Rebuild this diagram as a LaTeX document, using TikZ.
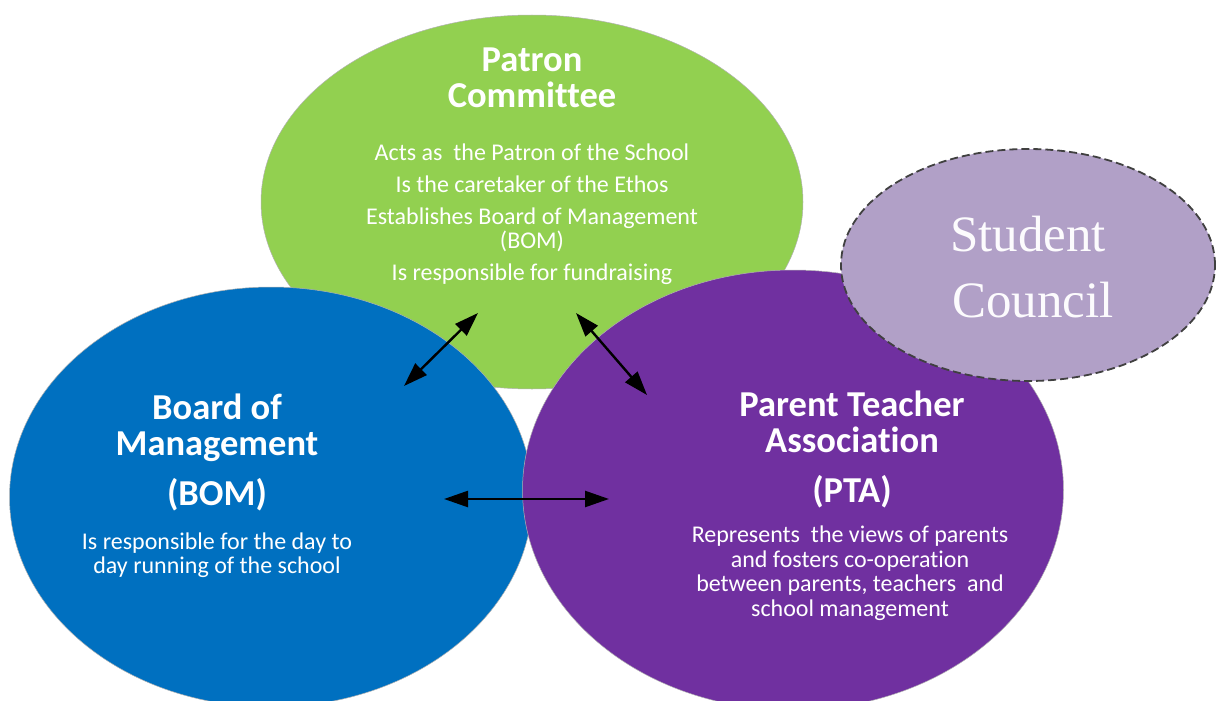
\documentclass[tikz,border=0pt]{standalone}
\usepackage{fontspec}
\setmainfont[Ligatures=NoCommon]{Carlito}
\newfontfamily\councilfont{Liberation Serif}
\usetikzlibrary{%
  arrows.meta,
  positioning,
  shapes.geometric
}
\definecolor{patrongreen}{HTML}{92D050}
\definecolor{bomblue}{HTML}{0070C0}
\definecolor{ptapurple}{HTML}{7030A0}
\definecolor{councillilac}{HTML}{B1A0C7}
\tikzset{
  bubble/.style={
    ellipse, inner sep=0pt, draw=black!30, line width=0.5pt,
  },
  patron/.style={bubble, fill=patrongreen,
    minimum width=542pt, minimum height=374pt},
  bom/.style={bubble, fill=bomblue,
    minimum width=523pt, minimum height=420pt},
  pta/.style={bubble, fill=ptapurple,
    minimum width=541pt, minimum height=440pt},
  council/.style={bubble, fill=councillilac,
    draw=black!75, line width=1.8pt, dash pattern=on 8pt off 4pt,
    minimum width=374pt, minimum height=232pt},
  heading/.style={
    text=white, align=center, inner sep=0pt,
    font=\fontsize{36.5}{36}\selectfont\bfseries,
  },
  remit/.style={
    text=white, align=center, inner sep=0pt,
    font=\fontsize{24}{24.5}\selectfont,
  },
  link/.style={
    line width=2.4pt, black,
    {Triangle[length=24pt, width=16pt]}-{Triangle[length=24pt, width=16pt]},
  },
}

\begin{document}
\begin{tikzpicture}[x=1pt, y=-1pt]
    \clip ( 0, 0) rectangle (1216, 701) ;

    \node [patron]  (patron)  at ( 532, 202) {} ;
    \node [bom]     (bom)     at ( 271, 497) {} ;
    \node [pta]     (pta)     at ( 793, 490) {} ;
    \node [council] (council) at (1028, 265) {} ;

    \node [heading] (patron name) at ( 532,  78) {Patron\\Committee} ;
    \node [remit]   (patron role) at ( 532, 214)
          {Acts as\ \ the Patron of the School\\[7.5pt]
           Is the caretaker of the Ethos\\[7.5pt]
           Establishes Board of Management\\(BOM)\\[7.5pt]
           Is responsible for fundraising} ;

    \node [heading] (bom name)  at ( 217, 428) {Board of\\Management} ;
    \node [heading] (bom short) at ( 217, 495) {(BOM)} ;
    \node [remit]   (bom role)  at ( 217, 555)
          {Is responsible for the day to\\day running of the school} ;

    \node [heading] (pta name)  at ( 852, 422) {Parent Teacher\\Association} ;
    \node [heading] (pta short) at ( 852, 492) {(PTA)} ;
    \node [remit]   (pta role)  at ( 850, 573)
          {Represents\ \ the views of parents\\and fosters co-operation\\
           between parents, teachers\ \ and\\school management} ;

    \node [text=white!96!councillilac, align=center, inner sep=0pt,
           font=\councilfont\fontsize{51}{66}\selectfont]
          (council name) at (1028, 267) {Student\\\hspace*{10pt}Council} ;

    \coordinate (bom to patron) at ( 404, 386) ;
    \coordinate (patron to bom) at ( 478, 313) ;
    \coordinate (patron to pta) at ( 576, 313) ;
    \coordinate (pta to patron) at ( 647, 395) ;
    \coordinate (bom to pta)    at ( 444, 499) ;
    \coordinate (pta to bom)    at ( 609, 499) ;

    \draw [link] (bom to patron) -- (patron to bom) ;
    \draw [link] (patron to pta) -- (pta to patron) ;
    \draw [link] (bom to pta)    -- (pta to bom) ;
\end{tikzpicture}
\end{document}
